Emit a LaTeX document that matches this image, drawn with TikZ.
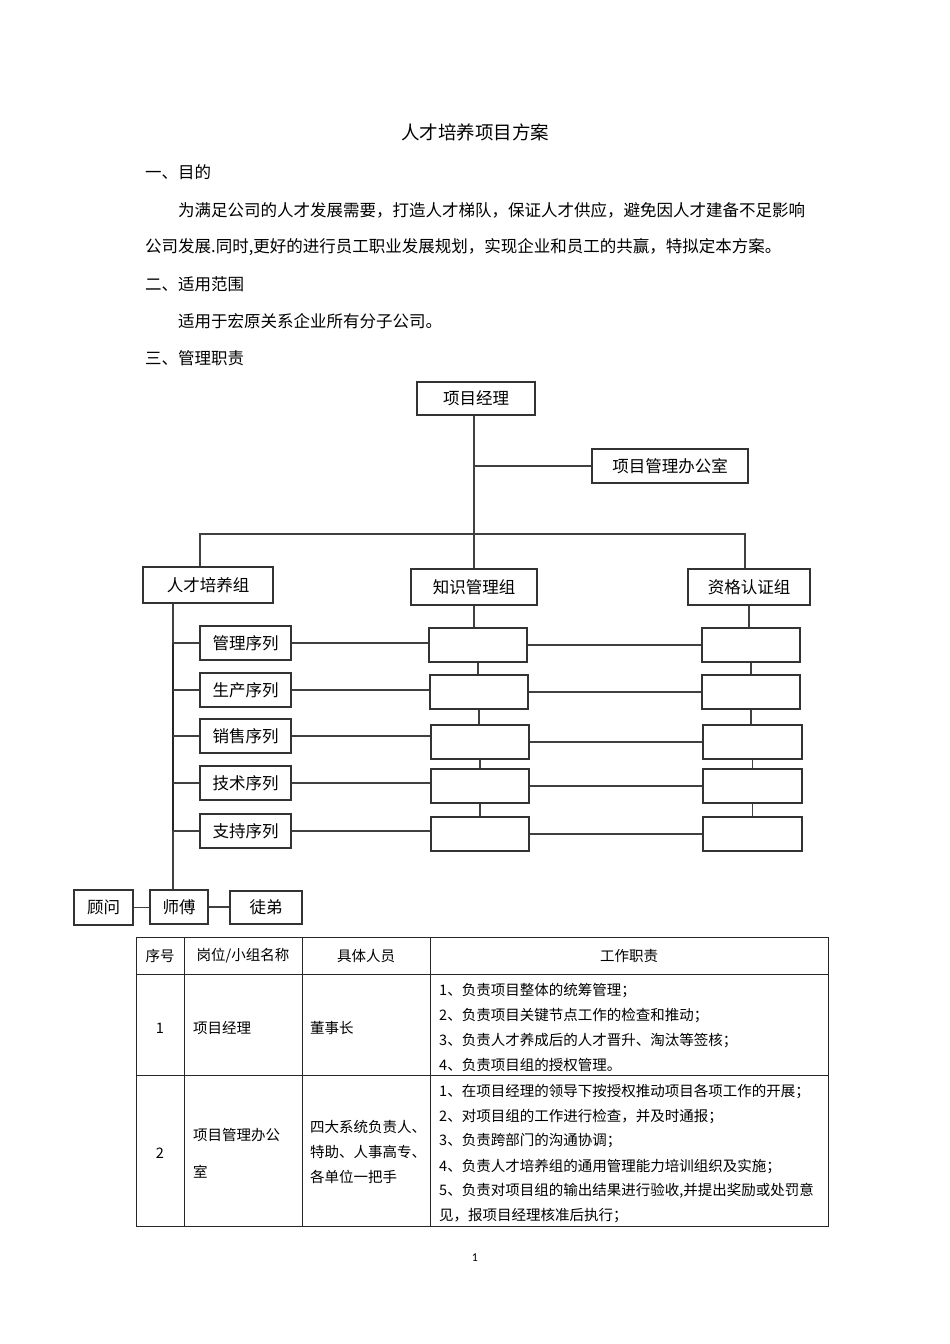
\documentclass[tikz,border=0pt]{standalone}
\usepackage{fontspec}
\setmainfont{Noto Sans CJK SC}
\newfontfamily\pnumfont{Carlito}
\begin{document}
\begin{tikzpicture}[x=1pt,y=-1pt]
\tikzset{
  box/.style={draw=black!80, line width=1.2pt, inner sep=0pt, font=\fontsize{16.5}{18}\selectfont},
  ln/.style={draw=black!75, line width=1.2pt},
  body/.style={anchor=west, inner sep=0pt, font=\fontsize{16.5}{18}\selectfont},
  tb/.style={inner sep=0pt, font=\fontsize{14.5}{16}\selectfont},
  tbl/.style={inner sep=0pt, anchor=west, font=\fontsize{14.5}{16}\selectfont},
  tline/.style={draw=black!85, line width=0.9pt},
}
\useasboundingbox (0,0) rectangle (950,1344);
\fill[white] (0,0) rectangle (950,1344);

% ---------- heading text ----------
\node[inner sep=0pt, font=\fontsize{18.5}{20}\selectfont] (title) at (475,132) {人才培养项目方案};
\node[body] (h1) at (145,172) {一、目的};
\node[body] (p1) at (178,210) {为满足公司的人才发展需要，打造人才梯队，保证人才供应，避免因人才建备不足影响};
\node[body] (p2) at (145,247) {公司发展.同时,更好的进行员工职业发展规划，实现企业和员工的共赢，特拟定本方案。};
\node[body] (h2) at (145,284) {二、适用范围};
\node[body] (p3) at (178,321) {适用于宏原关系企业所有分子公司。};
\node[body] (h3) at (145,358) {三、管理职责};

% ---------- org chart ----------
\node[box, minimum width=118pt, minimum height=33pt] (pm) at (476,398.5) {项目经理};
\node[box, minimum width=156pt, minimum height=34pt] (office) at (670,466) {项目管理办公室};
\node[box, minimum width=130pt, minimum height=36pt] (talent) at (208,585) {人才培养组};
\node[box, minimum width=126pt, minimum height=36pt] (know) at (474,587) {知识管理组};
\node[box, line width=1.6pt, minimum width=122pt, minimum height=36pt] (qual) at (749,587) {资格认证组};

\node[box, minimum width=91pt, minimum height=34pt] (s1) at (245.5,643) {管理序列};
\node[box, minimum width=91pt, minimum height=34pt] (s2) at (245.5,690) {生产序列};
\node[box, minimum width=91pt, minimum height=34pt] (s3) at (245.5,736) {销售序列};
\node[box, minimum width=91pt, minimum height=34pt] (s4) at (245.5,783) {技术序列};
\node[box, minimum width=91pt, minimum height=34pt] (s5) at (245.5,831) {支持序列};

\node[box, minimum width=98pt, minimum height=34pt] (m1) at (478,645) {};
\node[box, minimum width=98pt, minimum height=34pt] (m2) at (479,692) {};
\node[box, minimum width=98pt, minimum height=34pt] (m3) at (480,742) {};
\node[box, minimum width=98pt, minimum height=34pt] (m4) at (480,786) {};
\node[box, minimum width=98pt, minimum height=34pt] (m5) at (480,834) {};

\node[box, minimum width=98pt, minimum height=34pt] (r1) at (751,645) {};
\node[box, minimum width=98pt, minimum height=34pt] (r2) at (751,692) {};
\node[box, minimum width=99pt, minimum height=34pt] (r3) at (752.5,742) {};
\node[box, minimum width=99pt, minimum height=34pt] (r4) at (752.5,786) {};
\node[box, minimum width=99pt, minimum height=34pt] (r5) at (752.5,834) {};

\node[box, minimum width=59pt, minimum height=35pt] (gw) at (103.5,907.5) {顾问};
\node[box, minimum width=58pt, minimum height=34pt] (sf) at (179,907) {师傅};
\node[box, minimum width=72pt, minimum height=33pt] (td) at (266,907.5) {徒弟};

% junction coordinates
\coordinate (vtop) at (474,415);
\coordinate (joff) at (474,466);
\coordinate (busL) at (200,534);
\coordinate (busR) at (745,534);
\coordinate (lv) at (173,603);

% connectors
\draw[ln] (pm.south -| vtop) -- (know.north);
\draw[ln] (joff) -- (office.west);
\draw[ln] (busL |- talent.north) -- (busL) -- (busR) -- (busR |- qual.north);
\draw[ln] (talent.south -| lv) -- (sf.north -| lv);
\draw[draw=black!85, line width=1.9pt] (lv |- s1.west) -- (lv |- s5.west);
\foreach \s in {s1,s2,s3,s4,s5} {
  \draw[ln] (lv |- \s.west) -- (\s.west);
}
% sequence -> middle -> right
\draw[ln] (s1.east) -- (s1.east -| m1.west);
\draw[ln] (s2.east) -- (s2.east -| m2.west);
\draw[ln] (s3.east) -- (s3.east -| m3.west);
\draw[ln] (s4.east) -- (s4.east -| m4.west);
\draw[ln] (s5.east) -- (s5.east -| m5.west);
\draw[ln] (m1.east) -- (r1.west);
\draw[ln] (m2.east) -- (r2.west);
\draw[ln] (m3.east) -- (r3.west);
\draw[ln] (m4.east) -- (r4.west);
\draw[ln] (m5.east) -- (r5.west);
% vertical chains
\draw[ln] (know.south) -- (know.south |- m1.north);
\draw[ln] (m1.south) -- (m1.south |- m2.north);
\draw[ln] (m2.south) -- (m2.south |- m3.north);
\draw[ln] (m3.south) -- (m3.south |- m4.north);
\draw[ln] (m4.south) -- (m4.south |- m5.north);
\draw[ln] (qual.south) -- (qual.south |- r1.north);
\draw[ln] (r1.south) -- (r1.south |- r2.north);
\draw[ln] (r2.south) -- (r2.south |- r3.north);
\draw[ln] (r3.south) -- (r3.south |- r4.north);
\draw[ln] (r4.south) -- (r4.south |- r5.north);
% mentor links
\draw[ln] (gw.east) -- (gw.east -| sf.west);
\draw[ln] (sf.east) -- (sf.east -| td.west);

% ---------- table ----------
\draw[tline] (136,937) rectangle (828,1226);
\draw[tline] (136,974) -- (828,974);
\draw[tline] (136,1075) -- (828,1075);
\draw[tline] (184,937) -- (184,1226);
\draw[tline] (302,937) -- (302,1226);
\draw[tline] (430,937) -- (430,1226);

\node[tb] (th1) at (160,956) {序号};
\node[tb] (th2) at (243,956) {岗位/小组名称};
\node[tb] (th3) at (366,956) {具体人员};
\node[tb] (th4) at (629,956) {工作职责};

\node[tb] (n1) at (160,1028) {1};
\node[tbl] (a1) at (193,1028) {项目经理};
\node[tbl] (b1) at (310,1028) {董事长};
\node[tbl] (c11) at (439,991) {1、负责项目整体的统筹管理；};
\node[tbl] (c12) at (439,1016) {2、负责项目关键节点工作的检查和推动；};
\node[tbl] (c13) at (439,1041) {3、负责人才养成后的人才晋升、淘汰等签核；};
\node[tbl] (c14) at (439,1065) {4、负责项目组的授权管理。};

\node[tb] (n2) at (160,1153) {2};
\node[tbl] (a21) at (193,1135) {项目管理办公};
\node[tbl] (a22) at (193,1172) {室};
\node[tbl] (b21) at (310,1127) {四大系统负责人、};
\node[tbl] (b22) at (310,1152) {特助、人事高专、};
\node[tbl] (b23) at (310,1177) {各单位一把手};
\node[tbl] (c21) at (439,1092) {1、在项目经理的领导下按授权推动项目各项工作的开展；};
\node[tbl] (c22) at (439,1117) {2、对项目组的工作进行检查，并及时通报；};
\node[tbl] (c23) at (439,1141) {3、负责跨部门的沟通协调；};
\node[tbl] (c24) at (439,1167) {4、负责人才培养组的通用管理能力培训组织及实施；};
\node[tbl] (c25) at (439,1191) {5、负责对项目组的输出结果进行验收,并提出奖励或处罚意};
\node[tbl] (c26) at (439,1216) {见，报项目经理核准后执行；};

\node[inner sep=0pt, font=\pnumfont\fontsize{12}{14}\selectfont] (pg) at (475,1258) {1};
\end{tikzpicture}
\end{document}
